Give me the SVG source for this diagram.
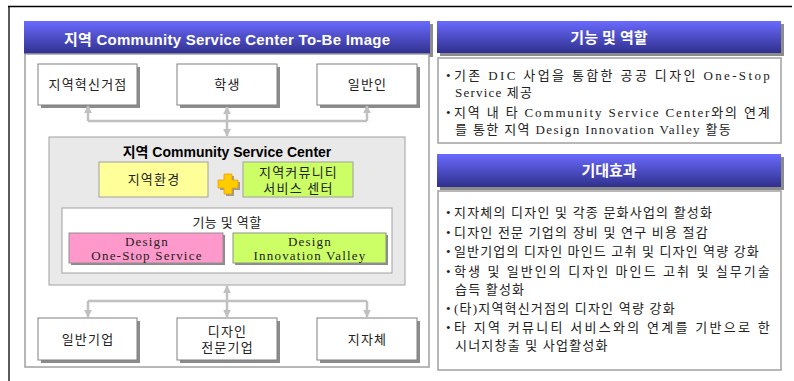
<svg xmlns="http://www.w3.org/2000/svg" width="794" height="381" viewBox="0 0 794 381">
<defs>
<linearGradient id="bar" x1="0" y1="0" x2="0" y2="1">
<stop offset="0" stop-color="#6a6aff"/>
<stop offset="1" stop-color="#30308c"/>
</linearGradient>
<marker id="ah" viewBox="0 0 10 10" refX="9" refY="5" markerWidth="3.2" markerHeight="3.2" orient="auto-start-reverse" markerUnits="strokeWidth">
<path d="M0,0 L10,5 L0,10 z" fill="#c0c0c0"/>
</marker>
</defs>
<style>
.bar{fill:url(#bar);}
.shadow{fill:#8c8c8c;}
.bt{fill:#ffffff;font-family:"Liberation Sans","Noto Sans CJK KR",sans-serif;font-weight:bold;font-size:15px;text-anchor:middle;}
.panel{fill:#ffffff;stroke:#a0a0a0;stroke-width:1.5;}
.node{fill:#ffffff;stroke:#808080;stroke-width:1;}
.t{font-family:"Liberation Serif","Noto Sans CJK KR",serif;font-size:13px;fill:#222222;text-anchor:middle;letter-spacing:1.2px;}
.tl{font-family:"Liberation Serif","Noto Sans CJK KR",serif;font-size:13px;fill:#222222;letter-spacing:1.2px;}
.conn{fill:none;stroke:#c0c0c0;stroke-width:2.5;}
</style>
<rect x="0" y="0" width="794" height="381" fill="#ffffff"/>
<line x1="8" y1="6.5" x2="792" y2="6.5" stroke="#000000" stroke-width="1.3"/>
<line x1="9" y1="6" x2="9" y2="381" stroke="#000000" stroke-width="1.3"/>

<g id="left-title">
<rect class="shadow" x="27" y="24" width="406" height="33"/>
<rect class="bar" x="24" y="21" width="406" height="33"/>
<text class="bt" x="227" y="45" textLength="326" lengthAdjust="spacing">지역 Community Service Center To-Be Image</text>
</g>
<rect class="panel" x="25" y="54" width="404" height="313"/>

<g id="n-hub">
<rect class="shadow" x="41" y="67" width="99" height="41"/>
<rect class="node" x="38" y="64" width="99" height="41"/>
<text class="t" x="88" y="89">지역혁신거점</text>
</g>
<g id="n-student">
<rect class="shadow" x="180" y="67" width="100" height="41"/>
<rect class="node" x="177" y="64" width="100" height="41"/>
<text class="t" x="227.5" y="89">학생</text>
</g>
<g id="n-public">
<rect class="shadow" x="320" y="67" width="100" height="41"/>
<rect class="node" x="317" y="64" width="100" height="41"/>
<text class="t" x="367.5" y="89">일반인</text>
</g>

<g id="center">
<rect x="49" y="137" width="356" height="148" fill="#e9e9e9" stroke="#a0a0a0" stroke-width="1"/>
<text x="227" y="157" font-family="'Liberation Sans','Noto Sans CJK KR',sans-serif" font-weight="bold" font-size="14" fill="#000000" text-anchor="middle">지역 Community Service Center</text>
<g id="n-env">
<rect x="99" y="162" width="109" height="35" fill="#ffff99" stroke="#a0a0a0" stroke-width="1"/>
<text class="t" x="154" y="184">지역환경</text>
</g>
<g id="plus">
<path d="M226,176 h8 v6 h6 v8 h-6 v6 h-8 v-6 h-6 v-8 h6 z" fill="#9a9a9a"/>
<path d="M224,174 h8 v6 h6 v8 h-6 v6 h-8 v-6 h-6 v-8 h6 z" fill="#ffcc00" stroke="#f0a000" stroke-width="0.8"/>
</g>
<g id="n-csc">
<rect x="243" y="162" width="110" height="35" fill="#ccff66" stroke="#a0a0a0" stroke-width="1"/>
<text class="t" x="298.5" y="177">지역커뮤니티</text>
<text class="t" x="298.5" y="193">서비스 센터</text>
</g>
<g id="roles">
<rect x="62" y="208" width="330" height="65" fill="#ffffff" stroke="#a0a0a0" stroke-width="1"/>
<text class="t" x="227" y="227" fill="#333333" style="letter-spacing:0.4px">기능 및 역할</text>
<g id="n-onestop">
<rect class="shadow" x="71" y="235" width="154" height="30"/>
<rect x="69" y="233" width="154" height="30" fill="#ff99cc" stroke="#909090" stroke-width="1"/>
<text class="t" x="147" y="246">Design</text>
<text class="t" x="147" y="260">One-Stop Service</text>
</g>
<g id="n-valley">
<rect class="shadow" x="235" y="235" width="153" height="30"/>
<rect x="233" y="233" width="153" height="30" fill="#ccff66" stroke="#909090" stroke-width="1"/>
<text class="t" x="310" y="246">Design</text>
<text class="t" x="310" y="260">Innovation Valley</text>
</g>
</g>
</g>

<g id="n-company">
<rect class="shadow" x="41" y="321" width="99" height="42"/>
<rect class="node" x="38" y="318" width="99" height="42"/>
<text class="t" x="88" y="344">일반기업</text>
</g>
<g id="n-design">
<rect class="shadow" x="180" y="321" width="100" height="42"/>
<rect class="node" x="177" y="318" width="100" height="42"/>
<text class="t" x="227.5" y="336">디자인</text>
<text class="t" x="227.5" y="352">전문기업</text>
</g>
<g id="n-gov">
<rect class="shadow" x="320" y="321" width="100" height="42"/>
<rect class="node" x="317" y="318" width="100" height="42"/>
<text class="t" x="367.5" y="344">지자체</text>
</g>

<g id="connectors">
<polyline class="conn" points="88,121 367,121"/>
<line class="conn" x1="88" y1="121" x2="88" y2="106" marker-end="url(#ah)"/>
<line class="conn" x1="367" y1="121" x2="367" y2="106" marker-end="url(#ah)"/>
<line class="conn" x1="227" y1="107" x2="227" y2="136" marker-start="url(#ah)" marker-end="url(#ah)"/>
<polyline class="conn" points="88,301 367,301"/>
<line class="conn" x1="88" y1="301" x2="88" y2="317" marker-end="url(#ah)"/>
<line class="conn" x1="367" y1="301" x2="367" y2="317" marker-end="url(#ah)"/>
<line class="conn" x1="227" y1="286" x2="227" y2="317" marker-start="url(#ah)" marker-end="url(#ah)"/>
</g>

<g id="roles-title">
<rect class="shadow" x="440" y="24" width="344" height="32"/>
<rect class="bar" x="437" y="21" width="344" height="32"/>
<text class="bt" x="609" y="43">기능 및 역할</text>
</g>
<g id="roles-box">
<rect class="panel" x="438" y="58" width="343" height="85" stroke-width="1"/>
<text class="tl" x="446" y="80">•</text>
<text class="tl" x="454" y="80" textLength="317" lengthAdjust="spacing">기존 DIC 사업을 통합한 공공 디자인 One-Stop</text>
<text class="tl" x="455" y="97">Service 제공</text>
<text class="tl" x="446" y="117">•</text>
<text class="tl" x="454" y="117" textLength="317" lengthAdjust="spacing">지역 내 타 Community Service Center와의 연계</text>
<text class="tl" x="455" y="134" textLength="277" lengthAdjust="spacing">를 통한 지역 Design Innovation Valley 활동</text>
</g>

<g id="effect-title">
<rect class="shadow" x="440" y="157" width="344" height="33"/>
<rect class="bar" x="437" y="154" width="344" height="33"/>
<text class="bt" x="609" y="176">기대효과</text>
</g>
<g id="effect-box">
<rect class="panel" x="438" y="191" width="343" height="179" stroke-width="1"/>
<text class="tl" x="446" y="217">•</text>
<text class="tl" x="454" y="217">지자체의 디자인 및 각종 문화사업의 활성화</text>
<text class="tl" x="446" y="237">•</text>
<text class="tl" x="454" y="237">디자인 전문 기업의 장비 및 연구 비용 절감</text>
<text class="tl" x="446" y="256">•</text>
<text class="tl" x="454" y="256" textLength="306" lengthAdjust="spacing">일반기업의 디자인 마인드 고취 및 디자인 역량 강화</text>
<text class="tl" x="446" y="276">•</text>
<text class="tl" x="454" y="276" textLength="317" lengthAdjust="spacing">학생 및 일반인의 디자인 마인드 고취 및 실무기술</text>
<text class="tl" x="455" y="294">습득 활성화</text>
<text class="tl" x="446" y="313">•</text>
<text class="tl" x="454" y="313">(타)지역혁신거점의 디자인 역량 강화</text>
<text class="tl" x="446" y="332">•</text>
<text class="tl" x="454" y="332" textLength="317" lengthAdjust="spacing">타 지역 커뮤니티 서비스와의 연계를 기반으로 한</text>
<text class="tl" x="455" y="350">시너지창출 및 사업활성화</text>
</g>
</svg>
